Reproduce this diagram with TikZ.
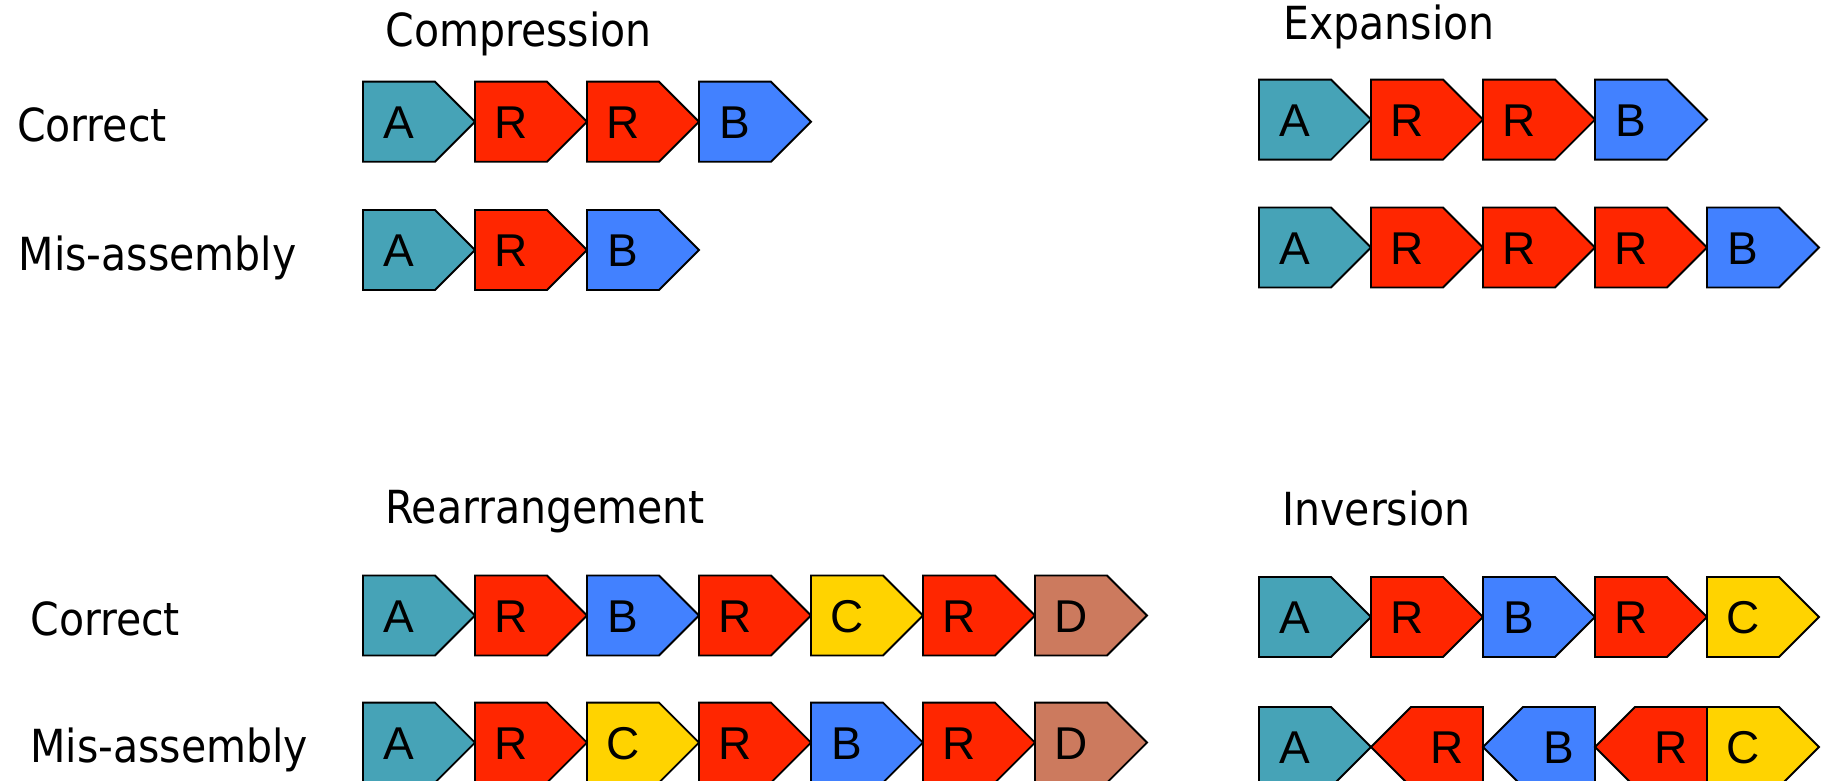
\documentclass[tikz,border=0pt]{standalone}
\usepackage{fontspec}
\newfontfamily\labelfont{DejaVu Sans Condensed}
\newfontfamily\genefont{Liberation Sans}

\definecolor{colA}{HTML}{46A3B7}
\definecolor{colR}{HTML}{FF2600}
\definecolor{colB}{HTML}{4281FF}
\definecolor{colC}{HTML}{FFD300}
\definecolor{colD}{HTML}{CC7A5E}

\tikzset{
  gene/.style={draw=black, line width=0.95pt, line join=miter},
  genetext/.style={font=\genefont\fontsize{23pt}{27pt}\selectfont, inner sep=0pt, anchor=base},
  rowlabel/.style={font=\labelfont\fontsize{22.8pt}{27pt}\selectfont, inner sep=0pt, anchor=base west}
}

\begin{document}
\begin{tikzpicture}[x=0.5pt, y=-0.5pt]
    % page frame, 1830 x 781 units
    \clip (0,0) rectangle (1830,781);

    % panel titles
    \node[rowlabel] (tcomp) at (385,46.7) {Compression};
    \node[rowlabel] (texp) at (1283,40) {Expansion};
    \node[rowlabel] (trear) at (385,523.3) {Rearrangement};
    \node[rowlabel] (tinv) at (1282,525) {Inversion};

    % row labels on the left
    \node[rowlabel] (lcorr1) at (16.7,141.7) {Correct};
    \node[rowlabel] (lmis1) at (18.3,270) {Mis-assembly};
    \node[rowlabel] (lcorr2) at (30,635.5) {Correct};
    \node[rowlabel] (lmis2) at (30,762.6) {Mis-assembly};

    % rows of genes pointing right (each box 112 wide, 80 high)
    \foreach \x/\y/\genes [count=\r] in {
        363/121.7/{colA/A,colR/R,colR/R,colB/B},
        363/250/{colA/A,colR/R,colB/B},
        1259/119.6/{colA/A,colR/R,colR/R,colB/B},
        1259/247.5/{colA/A,colR/R,colR/R,colR/R,colB/B},
        363/615.5/{colA/A,colR/R,colB/B,colR/R,colC/C,colR/R,colD/D},
        363/742.6/{colA/A,colR/R,colC/C,colR/R,colB/B,colR/R,colD/D},
        1259/617/{colA/A,colR/R,colB/B,colR/R,colC/C}}
    {
      \begin{scope}[shift={(\x,\y)}]
        \foreach \c/\t [count=\i from 0] in \genes {
          \draw[gene, fill=\c] (\i*112,-40) -- ++(72,0) -- ++(40,40)
              -- ++(-40,40) -- ++(-72,0) -- cycle;
          \node[genetext] (g\r-\i) at (\i*112+36,16.5) {\t};
        }
      \end{scope}
    }

    % inversion, mis-assembly: middle part turned round
    \begin{scope}[shift={(1259,747)}]
      \draw[gene, fill=colA] (0,-40) -- ++(72,0) -- ++(40,40) -- ++(-40,40) -- ++(-72,0) -- cycle;
      \node[genetext] (invA) at (36,16.5) {A};
      \foreach \c/\t [count=\i] in {colR/R,colB/B,colR/R} {
        \draw[gene, fill=\c] (\i*112+40,-40) -- ++(72,0) -- ++(0,80)
            -- ++(-72,0) -- ++(-40,-40) -- cycle;
        \node[genetext] (inv\i) at (\i*112+76,16.5) {\t};
      }
      \draw[gene, fill=colC] (448,-40) -- ++(72,0) -- ++(40,40) -- ++(-40,40) -- ++(-72,0) -- cycle;
      \node[genetext] (invC) at (484,16.5) {C};
    \end{scope}
\end{tikzpicture}
\end{document}
